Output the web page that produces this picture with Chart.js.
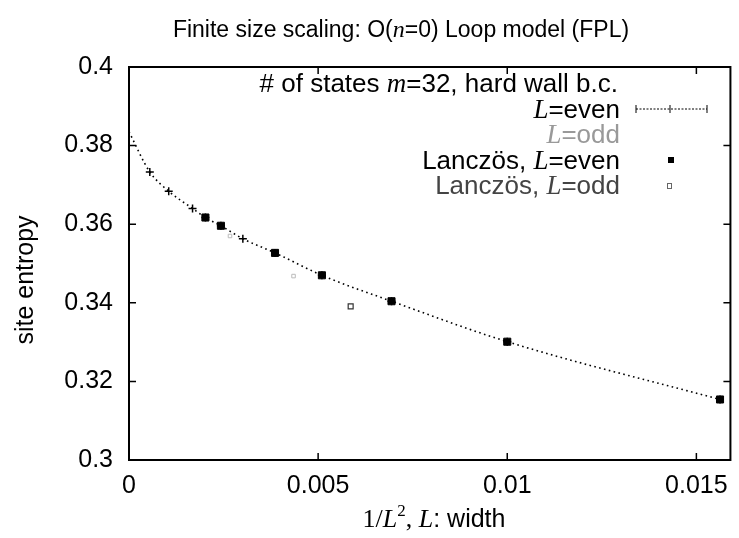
<!DOCTYPE html>
<html>
<head>
<meta charset="utf-8">
<script src="https://cdn.jsdelivr.net/npm/chart.js@4"></script>
<style>
  body { margin: 0; background: #fff; }
  #wrap { width: 739px; height: 538px; }
</style>
</head>
<body>
<div id="wrap"><canvas id="entropyChart"></canvas></div>
<script>
// values (x = 1/L^2, y = site entropy)
const evenX = [0.00055, 0.00105, 0.00168, 0.00202, 0.00243, 0.00301, 0.00386, 0.00510, 0.00694, 0.0100, 0.015625];
const evenY = [0.3733, 0.3684, 0.3640, 0.3617, 0.3596, 0.3563, 0.3527, 0.3470, 0.3404, 0.3301, 0.3154];
const lanczosEvenX = [0.00202, 0.00243, 0.00386, 0.00510, 0.00694, 0.0100, 0.015625];
const lanczosEvenY = [0.3617, 0.3596, 0.3527, 0.3470, 0.3404, 0.3301, 0.3154];
const oddX = [0.00267, 0.00435];
const oddY = [0.3570, 0.3468];
const lanczosOddX = [0.00586];
const lanczosOddY = [0.3391];
const interceptY = 0.3835; // dotted fit at 1/L^2 = 0
const xTicks = [0, 0.005, 0.01, 0.015];
const yTicks = [0.3, 0.32, 0.34, 0.36, 0.38, 0.4];

const SANS = '"Liberation Sans", Arial, sans-serif';
const SERIF = '"Liberation Serif", "Times New Roman", serif';

function pts(xs, ys) {
    return xs.map((x, i) => ({ x: x, y: ys[i] }));
}

// draws a row of text pieces with different fonts
function richText(ctx, parts, x, y, align) {
    let total = 0;
    parts.forEach(p => { ctx.font = p.font; total += ctx.measureText(p.t).width; });
    let cx = align === 'right' ? x - total : (align === 'center' ? x - total / 2 : x);
    ctx.textAlign = 'left';
    ctx.textBaseline = 'alphabetic';
    parts.forEach(p => {
        ctx.font = p.font;
        ctx.fillStyle = p.color || '#000';
        ctx.fillText(p.t, cx, y - (p.up || 0));
        cx += ctx.measureText(p.t).width;
    });
}

const frame = {
    id: 'frame',
    afterDraw(chart) {
        const ctx = chart.ctx;
        const a = chart.chartArea;
        const xs = chart.scales.x, ys = chart.scales.y;
        ctx.save();
        ctx.strokeStyle = '#000';
        ctx.lineWidth = 2;
        ctx.strokeRect(a.left, a.top, a.right - a.left, a.bottom - a.top);
        ctx.lineWidth = 1.5;
        ctx.beginPath();
        xTicks.forEach(v => {
            const px = xs.getPixelForValue(v);
            ctx.moveTo(px, a.bottom); ctx.lineTo(px, a.bottom - 7);
            ctx.moveTo(px, a.top); ctx.lineTo(px, a.top + 7);
        });
        yTicks.forEach(v => {
            const py = ys.getPixelForValue(v);
            ctx.moveTo(a.left, py); ctx.lineTo(a.left + 7, py);
            ctx.moveTo(a.right, py); ctx.lineTo(a.right - 7, py);
        });
        ctx.stroke();

        // titles
        richText(ctx, [
            { t: 'Finite size scaling: O(', font: '23px ' + SANS },
            { t: 'n', font: 'italic 24px ' + SERIF },
            { t: '=0) Loop model (FPL)', font: '23px ' + SANS }
        ], 401, 37, 'center');

        richText(ctx, [
            { t: '1/', font: '26px ' + SERIF },
            { t: 'L', font: 'italic 26px ' + SERIF },
            { t: '2', font: '17px ' + SERIF, up: 11 },
            { t: ', ', font: '26px ' + SERIF },
            { t: 'L', font: 'italic 26px ' + SERIF },
            { t: ': width', font: '25px ' + SANS }
        ], 434, 527, 'center');

        ctx.save();
        ctx.translate(33, 280);
        ctx.rotate(-Math.PI / 2);
        richText(ctx, [{ t: 'site entropy', font: '25px ' + SANS }], 0, 0, 'center');
        ctx.restore();

        // key
        const f = '26px ' + SANS, fi = 'italic 27px ' + SERIF;
        richText(ctx, [
            { t: '# of states ', font: f },
            { t: 'm', font: fi },
            { t: '=32, hard wall b.c.', font: f }
        ], 618, 92, 'right');
        richText(ctx, [{ t: 'L', font: fi }, { t: '=even', font: f }], 620, 118, 'right');
        richText(ctx, [{ t: 'L', font: fi, color: '#999' }, { t: '=odd', font: f, color: '#999' }], 620, 143, 'right');
        richText(ctx, [{ t: 'Lanczös, ', font: f }, { t: 'L', font: fi }, { t: '=even', font: f }], 620, 169, 'right');
        richText(ctx, [{ t: 'Lanczös, ', font: f, color: '#444' }, { t: 'L', font: fi, color: '#444' }, { t: '=odd', font: f, color: '#444' }], 620, 194, 'right');

        ctx.strokeStyle = '#000';
        ctx.lineWidth = 1;
        ctx.setLineDash([2, 1.5]);
        ctx.beginPath();
        ctx.moveTo(636, 109); ctx.lineTo(707, 109);
        ctx.stroke();
        ctx.setLineDash([]);
        ctx.beginPath();
        ctx.moveTo(636, 105); ctx.lineTo(636, 113);
        ctx.moveTo(707, 105); ctx.lineTo(707, 113);
        ctx.moveTo(670, 105); ctx.lineTo(670, 113);
        ctx.stroke();
        ctx.fillStyle = '#000';
        ctx.fillRect(668, 157, 6, 6);
        ctx.strokeStyle = '#666';
        ctx.strokeRect(667.5, 183.5, 4, 5);
        ctx.restore();
    }
};

const data = {
    datasets: [
        {
            label: 'L=even',
            data: [{ x: 0, y: interceptY }].concat(pts(evenX, evenY)),
            showLine: true,
            cubicInterpolationMode: 'monotone',
            borderColor: '#000',
            borderWidth: 1.6,
            borderDash: [1.6, 3.4],
            pointStyle: 'cross',
            pointRadius: c => c.dataIndex === 0 ? 0 : 4,
            pointBorderWidth: 1.5,
            pointBorderColor: '#000',
            order: 3
        },
        {
            label: 'L=odd',
            data: pts(oddX, oddY),
            pointStyle: 'rect',
            pointRadius: 2.5,
            pointBorderWidth: 1,
            pointBorderColor: '#bbb',
            pointBackgroundColor: '#fff',
            order: 2
        },
        {
            label: 'Lanczös, L=even',
            data: pts(lanczosEvenX, lanczosEvenY),
            pointStyle: 'rect',
            pointRadius: 5,
            pointBorderWidth: 1,
            pointBorderColor: '#000',
            pointBackgroundColor: '#000',
            order: 1
        },
        {
            label: 'Lanczös, L=odd',
            data: pts(lanczosOddX, lanczosOddY),
            pointStyle: 'rect',
            pointRadius: 3.5,
            pointBorderWidth: 1.2,
            pointBorderColor: '#333',
            pointBackgroundColor: '#fff',
            order: 0
        }
    ]
};

const config = {
    type: 'scatter',
    data: data,
    options: {
        responsive: true,
        maintainAspectRatio: false,
        animation: false,
        layout: { padding: { top: 67, right: 3, left: 0, bottom: 0 } },
        scales: {
            x: {
                type: 'linear',
                min: 0,
                max: 0.0159,
                afterBuildTicks: s => { s.ticks = xTicks.map(v => ({ value: v })); },
                afterFit: s => { s.height = 78; },
                grid: { display: false, drawTicks: false },
                border: { display: false },
                ticks: {
                    padding: 11,
                    color: '#000',
                    font: { family: SANS, size: 25 },
                    callback: v => String(+v.toFixed(4))
                }
            },
            y: {
                min: 0.3,
                max: 0.4,
                afterBuildTicks: s => { s.ticks = yTicks.map(v => ({ value: v })); },
                afterFit: s => { s.width = 129; },
                grid: { display: false, drawTicks: false },
                border: { display: false },
                ticks: {
                    padding: 16,
                    color: '#000',
                    font: { family: SANS, size: 25 },
                    callback: v => String(+v.toFixed(3))
                }
            }
        },
        plugins: {
            legend: { display: false },
            tooltip: { enabled: false },
            title: { display: false }
        }
    },
    plugins: [frame]
};

const ctx = document.getElementById('entropyChart').getContext('2d');
const entropyChart = new Chart(ctx, config);
</script>
</body>
</html>
